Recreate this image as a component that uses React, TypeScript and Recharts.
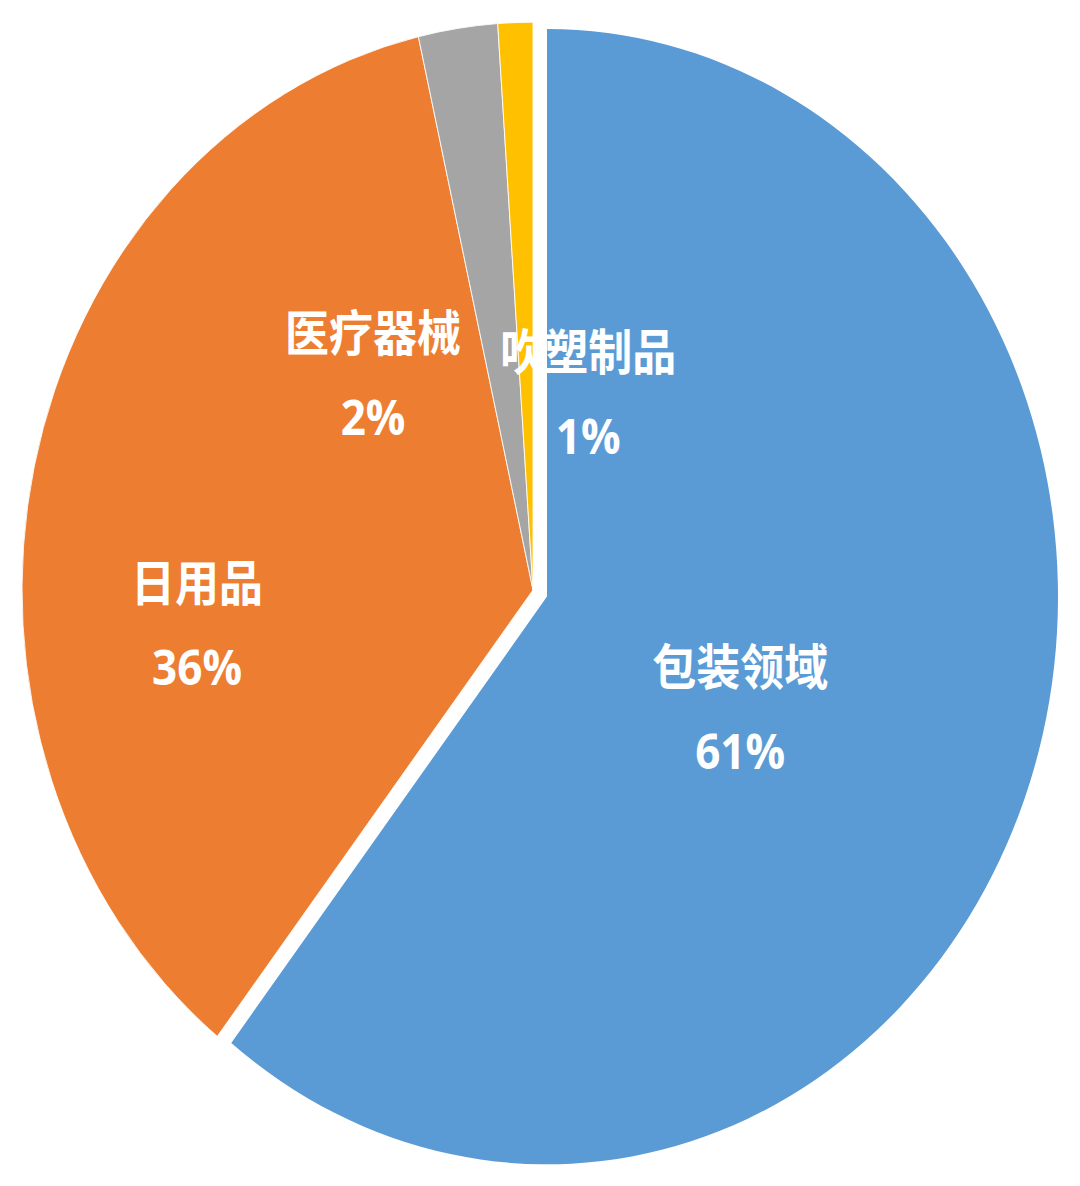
import React from 'react';
import { PieChart, Pie, Cell } from 'recharts';

// shares; labels show the rounded figures
const categories = ['包装领域', '日用品', '医疗器械', '吹塑制品'];
const shares = [60.6, 35.8, 2.5, 1.1];
const shareLabels = ['61%', '36%', '2%', '1%'];
const colors = ['#5B9BD5', '#ED7D31', '#A5A5A5', '#FFC000'];

// where each label sits: polar angle (deg) and fraction of radius from the pie centre
const labelPolar = [
  { angle: -27, r: 0.455 },
  { angle: 185.1, r: 0.66 },
  { angle: 129.3, r: 0.494 },
  { angle: 72.8, r: 0.365 },
];

const data = categories.map((name, i) => ({ name, value: shares[i] }));

const W = 1080;
const STRETCH = 1.111;
const H = Math.round(1186 / STRETCH);
const CX = 533;
const CY = 531;
const R = 511;
const EXPLODE = { dx: 14, dy: 6 };
const RAD = Math.PI / 180;

const nameStyle = {
  fill: '#fff',
  fontSize: 44,
  fontWeight: 700,
  fontFamily: '"Noto Sans CJK SC", "Noto Sans", sans-serif',
};
const pctStyle = {
  fill: '#fff',
  fontSize: 44,
  fontWeight: 700,
  fontFamily: '"Open Sans", "Noto Sans", sans-serif',
};

const renderLabel = (props: any) => {
  const { cx, cy, outerRadius, index } = props;
  const p = labelPolar[index];
  const x = cx + Math.cos(p.angle * RAD) * outerRadius * p.r;
  const y = cy - Math.sin(p.angle * RAD) * outerRadius * p.r;
  return (
    <g key={`lbl-${index}`}>
      <text x={x} y={y - 39} textAnchor="middle" dominantBaseline="central" style={nameStyle}>
        {categories[index]}
      </text>
      <text x={x} y={y + 39} textAnchor="middle" dominantBaseline="central" style={pctStyle}>
        {shareLabels[index]}
      </text>
    </g>
  );
};

export default function App() {
  return (
    <div style={{ position: 'absolute', left: 0, top: 0, width: W, height: 1186, background: '#fff' }}>
      <div style={{ transform: `scaleY(${STRETCH})`, transformOrigin: '0 0', width: W, height: H }}>
        <PieChart width={W} height={H} margin={{ top: 0, right: 0, bottom: 0, left: 0 }}>
          {/* the three small/remaining slices */}
          <Pie
            data={data}
            dataKey="value"
            cx={CX}
            cy={CY}
            outerRadius={R}
            startAngle={90}
            endAngle={-270}
            isAnimationActive={false}
            labelLine={false}
          >
            {data.map((d, i) => (
              <Cell
                key={i}
                fill={i === 0 ? 'none' : colors[i]}
                stroke={i === 0 ? 'none' : '#fff'}
                strokeWidth={0.8}
              />
            ))}
          </Pie>
          {/* exploded main slice */}
          <Pie
            data={data}
            dataKey="value"
            cx={CX + EXPLODE.dx}
            cy={CY + EXPLODE.dy}
            outerRadius={R}
            startAngle={90}
            endAngle={-270}
            isAnimationActive={false}
            labelLine={false}
          >
            {data.map((d, i) => (
              <Cell key={i} fill={i === 0 ? colors[0] : 'none'} stroke="none" />
            ))}
          </Pie>
          {/* label layer */}
          <Pie
            data={data}
            dataKey="value"
            cx={CX}
            cy={CY}
            outerRadius={R}
            startAngle={90}
            endAngle={-270}
            isAnimationActive={false}
            labelLine={false}
            label={renderLabel}
          >
            {data.map((d, i) => (
              <Cell key={i} fill="none" stroke="none" />
            ))}
          </Pie>
        </PieChart>
      </div>
    </div>
  );
}
